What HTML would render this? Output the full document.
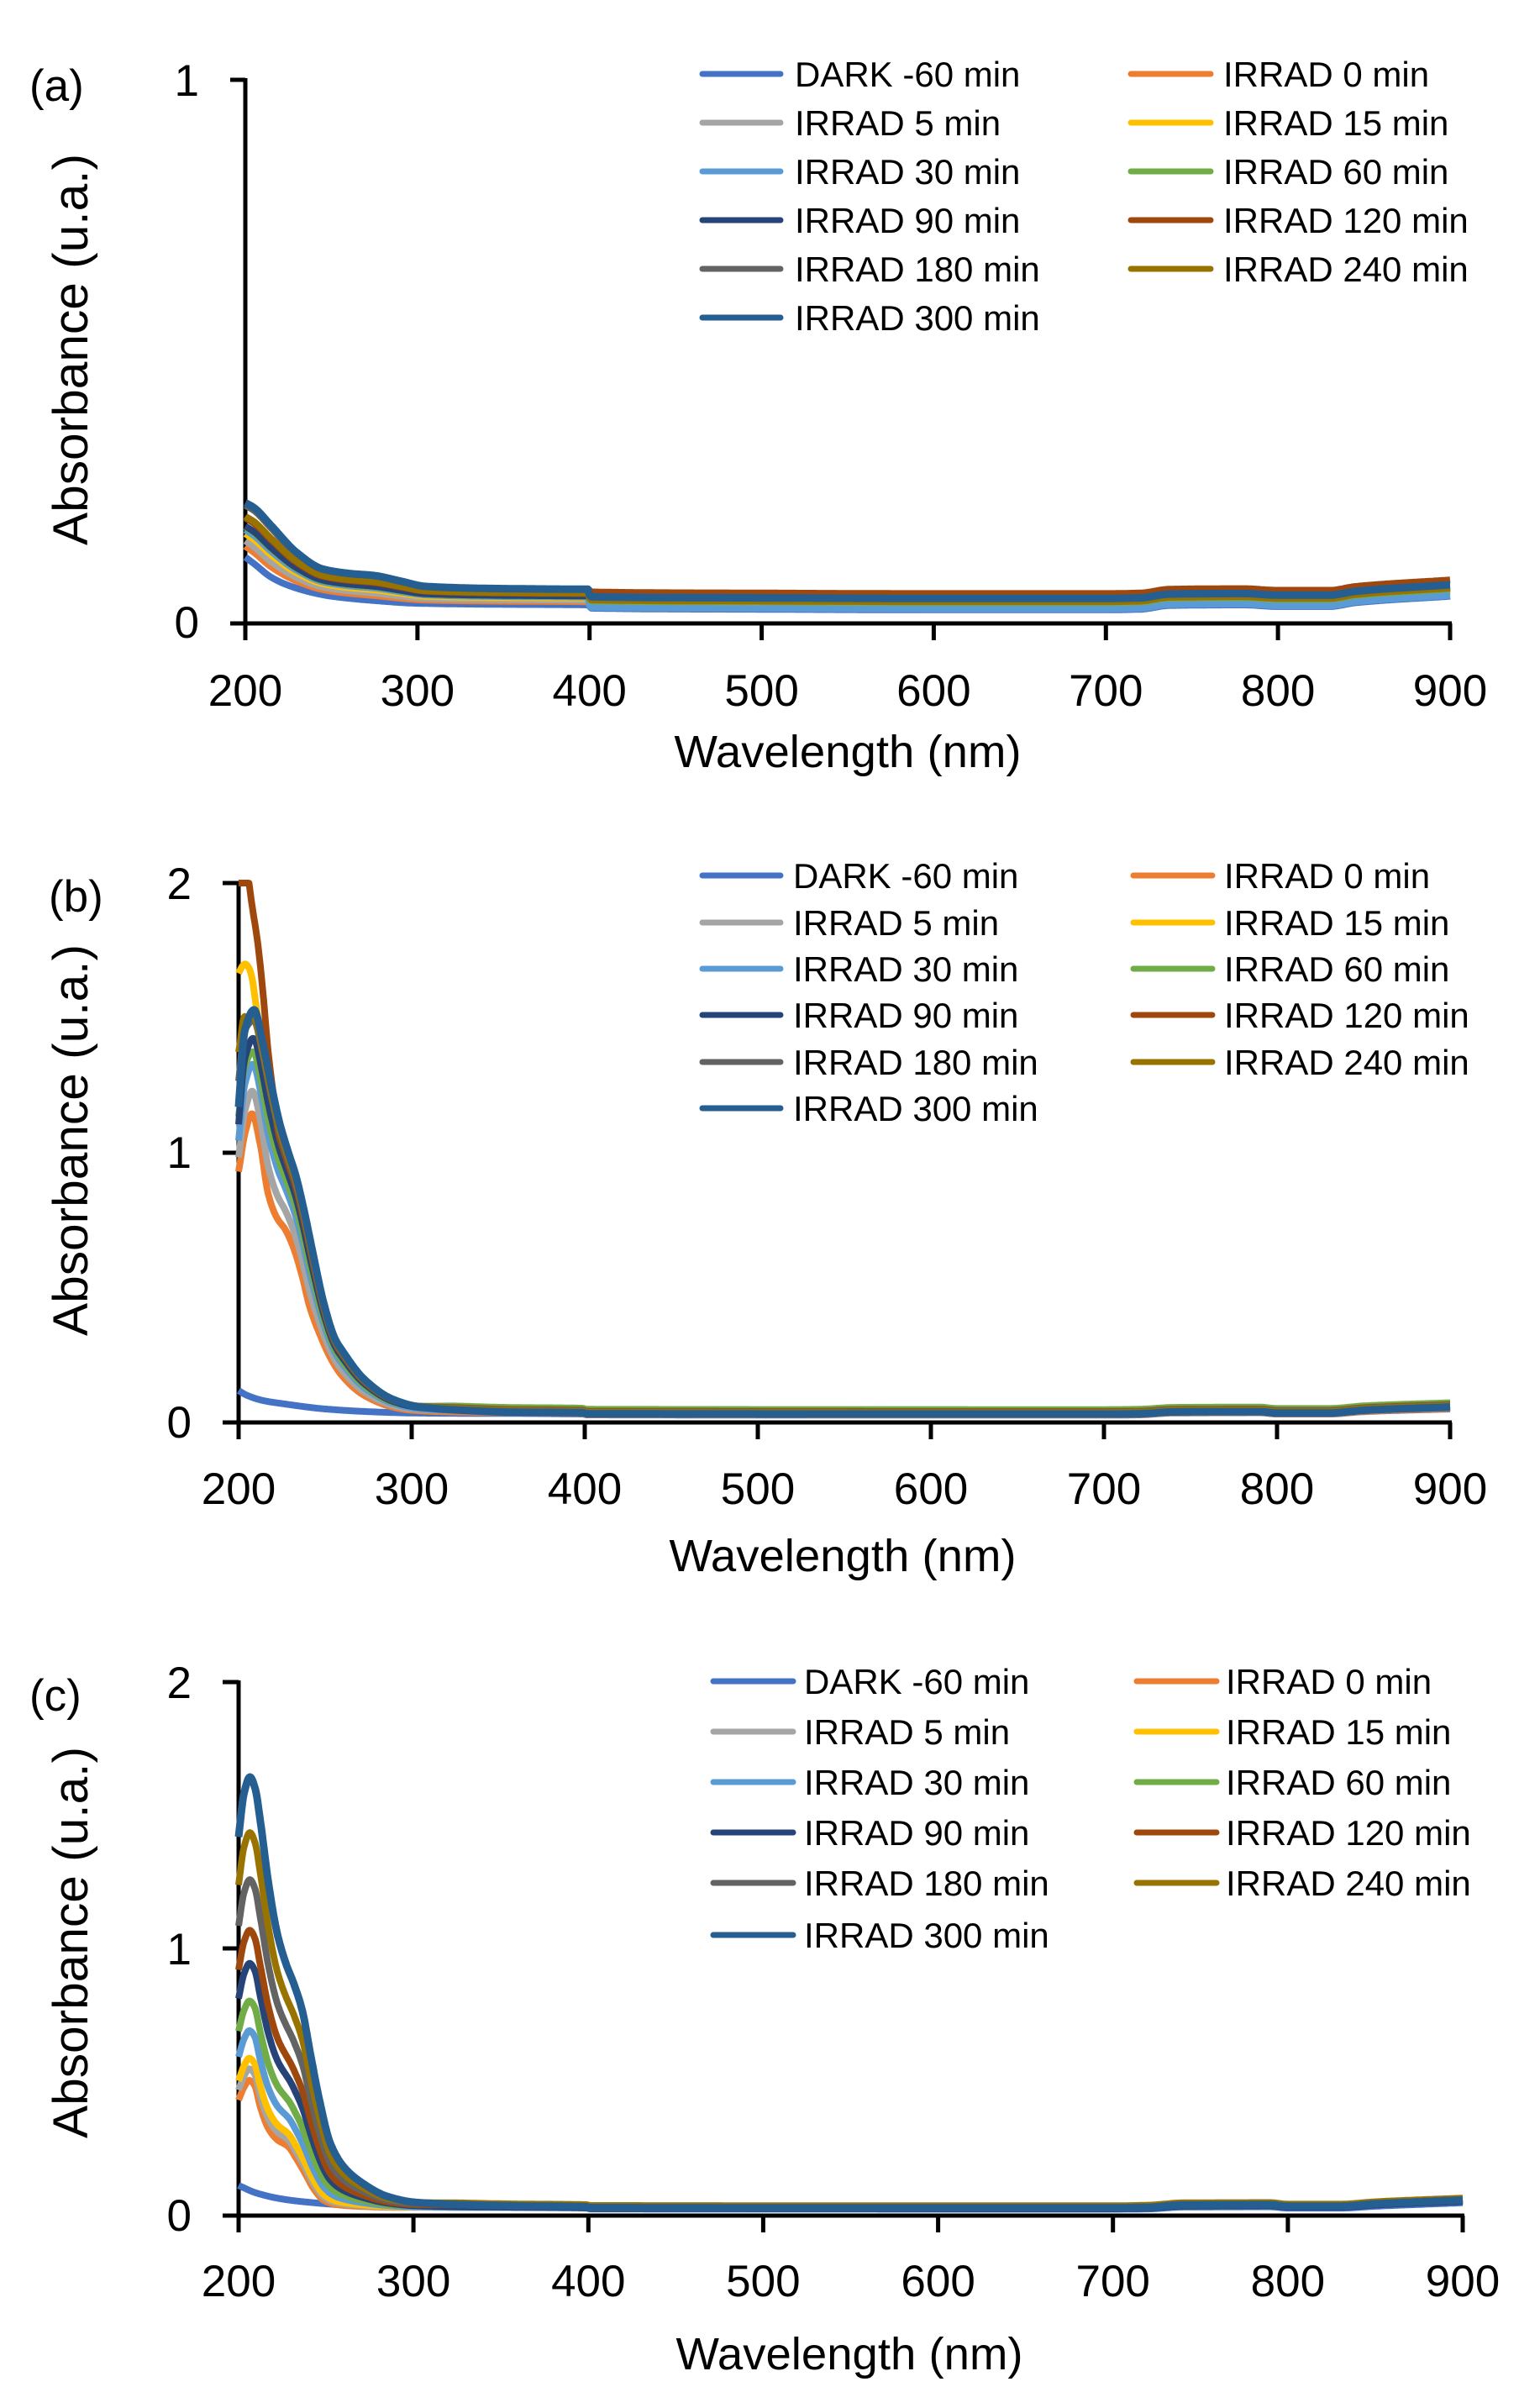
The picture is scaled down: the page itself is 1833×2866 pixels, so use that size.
<!DOCTYPE html>
<html>
<head>
<meta charset="utf-8">
<style>
  html,body{margin:0;padding:0;background:#fff;}
  svg{display:block;}
  text{font-family:"Liberation Sans", Arial, sans-serif; fill:#000;}
  .tk{font-size:53px;}
  .lg{font-size:42px;}
</style>
</head>
<body>
<svg id="fig" width="1833" height="2866" viewBox="0 0 1833 2866" xmlns="http://www.w3.org/2000/svg">
<rect x="0" y="0" width="1833" height="2866" fill="#fff"/>

<!-- ================= PANEL A ================= -->
<g stroke="#000" stroke-width="5" fill="none">
  <line x1="292" y1="93" x2="292" y2="744"/>
  <line x1="274" y1="95" x2="292" y2="95"/>
  <line x1="274" y1="742" x2="1728" y2="742"/>
  <line x1="292" y1="742" x2="292" y2="762"/>
  <line x1="496.9" y1="742" x2="496.9" y2="762"/>
  <line x1="701.7" y1="742" x2="701.7" y2="762"/>
  <line x1="906.6" y1="742" x2="906.6" y2="762"/>
  <line x1="1111.4" y1="742" x2="1111.4" y2="762"/>
  <line x1="1316.3" y1="742" x2="1316.3" y2="762"/>
  <line x1="1521.1" y1="742" x2="1521.1" y2="762"/>
  <line x1="1726" y1="742" x2="1726" y2="762"/>
</g>
<g id="curvesA"></g>
<text x="35" y="120" class="tk">(a)</text>
<text x="237" y="114" class="tk" text-anchor="end">1</text>
<text x="237" y="759" class="tk" text-anchor="end">0</text>
<g class="tk" text-anchor="middle">
  <text x="292" y="840">200</text>
  <text x="496.9" y="840">300</text>
  <text x="701.7" y="840">400</text>
  <text x="906.6" y="840">500</text>
  <text x="1111.4" y="840">600</text>
  <text x="1316.3" y="840">700</text>
  <text x="1521.1" y="840">800</text>
  <text x="1726" y="840">900</text>
</g>
<text x="1009" y="913" font-size="54" text-anchor="middle" textLength="413" lengthAdjust="spacingAndGlyphs">Wavelength (nm)</text>
<text transform="translate(104,416) rotate(-90)" font-size="58" text-anchor="middle" textLength="466" lengthAdjust="spacingAndGlyphs">Absorbance (u.a.)</text>

<g stroke-width="7" stroke-linecap="round">
  <line x1="836" y1="88" x2="929" y2="88" stroke="#4472C4"/>
  <line x1="1346" y1="88" x2="1441" y2="88" stroke="#ED7D31"/>
  <line x1="836" y1="146" x2="929" y2="146" stroke="#A5A5A5"/>
  <line x1="1346" y1="146" x2="1441" y2="146" stroke="#FFC000"/>
  <line x1="836" y1="204" x2="929" y2="204" stroke="#5B9BD5"/>
  <line x1="1346" y1="204" x2="1441" y2="204" stroke="#70AD47"/>
  <line x1="836" y1="262" x2="929" y2="262" stroke="#264478"/>
  <line x1="1346" y1="262" x2="1441" y2="262" stroke="#9E480E"/>
  <line x1="836" y1="320" x2="929" y2="320" stroke="#636363"/>
  <line x1="1346" y1="320" x2="1441" y2="320" stroke="#997300"/>
  <line x1="836" y1="378" x2="929" y2="378" stroke="#255E91"/>
</g>
<g class="lg">
  <text x="946" y="103">DARK -60 min</text>
  <text x="1456" y="103">IRRAD 0 min</text>
  <text x="946" y="161">IRRAD 5 min</text>
  <text x="1456" y="161">IRRAD 15 min</text>
  <text x="946" y="219">IRRAD 30 min</text>
  <text x="1456" y="219">IRRAD 60 min</text>
  <text x="946" y="277">IRRAD 90 min</text>
  <text x="1456" y="277">IRRAD 120 min</text>
  <text x="946" y="335">IRRAD 180 min</text>
  <text x="1456" y="335">IRRAD 240 min</text>
  <text x="946" y="393">IRRAD 300 min</text>
</g>

<!-- ================= PANEL B ================= -->
<g stroke="#000" stroke-width="5" fill="none">
  <line x1="284" y1="1049" x2="284" y2="1695"/>
  <line x1="265" y1="1051" x2="284" y2="1051"/>
  <line x1="265" y1="1372" x2="284" y2="1372"/>
  <line x1="265" y1="1693" x2="1728" y2="1693"/>
  <line x1="284" y1="1693" x2="284" y2="1713"/>
  <line x1="490" y1="1693" x2="490" y2="1713"/>
  <line x1="696" y1="1693" x2="696" y2="1713"/>
  <line x1="902" y1="1693" x2="902" y2="1713"/>
  <line x1="1108" y1="1693" x2="1108" y2="1713"/>
  <line x1="1314" y1="1693" x2="1314" y2="1713"/>
  <line x1="1520" y1="1693" x2="1520" y2="1713"/>
  <line x1="1726" y1="1693" x2="1726" y2="1713"/>
</g>
<g id="curvesB"></g>
<text x="58" y="1085" class="tk">(b)</text>
<text x="228" y="1070" class="tk" text-anchor="end">2</text>
<text x="228" y="1390" class="tk" text-anchor="end">1</text>
<text x="228" y="1711" class="tk" text-anchor="end">0</text>
<g class="tk" text-anchor="middle">
  <text x="284" y="1790">200</text>
  <text x="490" y="1790">300</text>
  <text x="696" y="1790">400</text>
  <text x="902" y="1790">500</text>
  <text x="1108" y="1790">600</text>
  <text x="1314" y="1790">700</text>
  <text x="1520" y="1790">800</text>
  <text x="1726" y="1790">900</text>
</g>
<text x="1003" y="1870" font-size="54" text-anchor="middle" textLength="413" lengthAdjust="spacingAndGlyphs">Wavelength (nm)</text>
<text transform="translate(104,1357) rotate(-90)" font-size="58" text-anchor="middle" textLength="466" lengthAdjust="spacingAndGlyphs">Absorbance (u.a.)</text>

<g stroke-width="7" stroke-linecap="round">
  <line x1="836" y1="1042" x2="929" y2="1042" stroke="#4472C4"/>
  <line x1="1349" y1="1042" x2="1443" y2="1042" stroke="#ED7D31"/>
  <line x1="836" y1="1098" x2="929" y2="1098" stroke="#A5A5A5"/>
  <line x1="1349" y1="1098" x2="1443" y2="1098" stroke="#FFC000"/>
  <line x1="836" y1="1153" x2="929" y2="1153" stroke="#5B9BD5"/>
  <line x1="1349" y1="1153" x2="1443" y2="1153" stroke="#70AD47"/>
  <line x1="836" y1="1208" x2="929" y2="1208" stroke="#264478"/>
  <line x1="1349" y1="1208" x2="1443" y2="1208" stroke="#9E480E"/>
  <line x1="836" y1="1264" x2="929" y2="1264" stroke="#636363"/>
  <line x1="1349" y1="1264" x2="1443" y2="1264" stroke="#997300"/>
  <line x1="836" y1="1319" x2="929" y2="1319" stroke="#255E91"/>
</g>
<g class="lg">
  <text x="944" y="1057">DARK -60 min</text>
  <text x="1457" y="1057">IRRAD 0 min</text>
  <text x="944" y="1113">IRRAD 5 min</text>
  <text x="1457" y="1113">IRRAD 15 min</text>
  <text x="944" y="1168">IRRAD 30 min</text>
  <text x="1457" y="1168">IRRAD 60 min</text>
  <text x="944" y="1223">IRRAD 90 min</text>
  <text x="1457" y="1223">IRRAD 120 min</text>
  <text x="944" y="1279">IRRAD 180 min</text>
  <text x="1457" y="1279">IRRAD 240 min</text>
  <text x="944" y="1334">IRRAD 300 min</text>
</g>

<!-- ================= PANEL C ================= -->
<g stroke="#000" stroke-width="5" fill="none">
  <line x1="284" y1="2000" x2="284" y2="2639"/>
  <line x1="265" y1="2002" x2="284" y2="2002"/>
  <line x1="265" y1="2319" x2="284" y2="2319"/>
  <line x1="265" y1="2637" x2="1743" y2="2637"/>
  <line x1="284" y1="2637" x2="284" y2="2657"/>
  <line x1="492.1" y1="2637" x2="492.1" y2="2657"/>
  <line x1="700.3" y1="2637" x2="700.3" y2="2657"/>
  <line x1="908.4" y1="2637" x2="908.4" y2="2657"/>
  <line x1="1116.6" y1="2637" x2="1116.6" y2="2657"/>
  <line x1="1324.7" y1="2637" x2="1324.7" y2="2657"/>
  <line x1="1532.9" y1="2637" x2="1532.9" y2="2657"/>
  <line x1="1741" y1="2637" x2="1741" y2="2657"/>
</g>
<g id="curvesC"></g>
<text x="35" y="2036" class="tk">(c)</text>
<text x="228" y="2021" class="tk" text-anchor="end">2</text>
<text x="228" y="2338" class="tk" text-anchor="end">1</text>
<text x="228" y="2655" class="tk" text-anchor="end">0</text>
<g class="tk" text-anchor="middle">
  <text x="284" y="2733">200</text>
  <text x="492.1" y="2733">300</text>
  <text x="700.3" y="2733">400</text>
  <text x="908.4" y="2733">500</text>
  <text x="1116.6" y="2733">600</text>
  <text x="1324.7" y="2733">700</text>
  <text x="1532.9" y="2733">800</text>
  <text x="1741" y="2733">900</text>
</g>
<text x="1011" y="2820" font-size="54" text-anchor="middle" textLength="413" lengthAdjust="spacingAndGlyphs">Wavelength (nm)</text>
<text transform="translate(104,2312) rotate(-90)" font-size="58" text-anchor="middle" textLength="466" lengthAdjust="spacingAndGlyphs">Absorbance (u.a.)</text>

<g stroke-width="7" stroke-linecap="round">
  <line x1="849" y1="2001" x2="944" y2="2001" stroke="#4472C4"/>
  <line x1="1353" y1="2001" x2="1448" y2="2001" stroke="#ED7D31"/>
  <line x1="849" y1="2061" x2="944" y2="2061" stroke="#A5A5A5"/>
  <line x1="1353" y1="2061" x2="1448" y2="2061" stroke="#FFC000"/>
  <line x1="849" y1="2121" x2="944" y2="2121" stroke="#5B9BD5"/>
  <line x1="1353" y1="2121" x2="1448" y2="2121" stroke="#70AD47"/>
  <line x1="849" y1="2181" x2="944" y2="2181" stroke="#264478"/>
  <line x1="1353" y1="2181" x2="1448" y2="2181" stroke="#9E480E"/>
  <line x1="849" y1="2241" x2="944" y2="2241" stroke="#636363"/>
  <line x1="1353" y1="2241" x2="1448" y2="2241" stroke="#997300"/>
  <line x1="849" y1="2303" x2="944" y2="2303" stroke="#255E91"/>
</g>
<g class="lg">
  <text x="957" y="2016">DARK -60 min</text>
  <text x="1459" y="2016">IRRAD 0 min</text>
  <text x="957" y="2076">IRRAD 5 min</text>
  <text x="1459" y="2076">IRRAD 15 min</text>
  <text x="957" y="2136">IRRAD 30 min</text>
  <text x="1459" y="2136">IRRAD 60 min</text>
  <text x="957" y="2196">IRRAD 90 min</text>
  <text x="1459" y="2196">IRRAD 120 min</text>
  <text x="957" y="2256">IRRAD 180 min</text>
  <text x="1459" y="2256">IRRAD 240 min</text>
  <text x="957" y="2318">IRRAD 300 min</text>
</g>
</svg>

<script>
(function(){
  var NS="http://www.w3.org/2000/svg";
  var COL={d:'#4472C4',s0:'#ED7D31',s5:'#A5A5A5',s15:'#FFC000',s30:'#5B9BD5',s60:'#70AD47',s90:'#264478',s120:'#9E480E',s180:'#636363',s240:'#997300',s300:'#255E91'};
  function mono(pts){
    var n=pts.length,x=[],y=[],d=[],m=[],i;
    for(i=0;i<n;i++){x.push(pts[i][0]);y.push(pts[i][1]);}
    for(i=0;i<n-1;i++)d.push((y[i+1]-y[i])/(x[i+1]-x[i]));
    m[0]=d[0];m[n-1]=d[n-2];
    for(i=1;i<n-1;i++){
      if(d[i-1]*d[i]<=0)m[i]=0;
      else{var w1=2*(x[i+1]-x[i])+(x[i]-x[i-1]),w2=(x[i+1]-x[i])+2*(x[i]-x[i-1]);m[i]=(w1+w2)/(w1/d[i-1]+w2/d[i]);}
    }
    return function(t){
      if(t<=x[0])return y[0];if(t>=x[n-1])return y[n-1];
      var k=0;while(t>x[k+1])k++;
      var h=x[k+1]-x[k],s=(t-x[k])/h,s2=s*s,s3=s2*s;
      return (2*s3-3*s2+1)*y[k]+(s3-2*s2+s)*h*m[k]+(-2*s3+3*s2)*y[k+1]+(s3-s2)*h*m[k+1];
    };
  }
  function sm(w,a,b){var t=(w-a)/(b-a);if(t<0)t=0;if(t>1)t=1;return t*t*(3-2*t);}
  function draw(gid,P,key,fn,sw){
    var g=document.getElementById(gid),d="",w,first=true;
    for(w=200;w<=900.001;w+=(w<340?0.5:1)){
      var A=fn(w);
      var X=P.x0+(w-200)*P.sx,Y=P.y0-A*P.sy;
      d+=(first?"M":"L")+X.toFixed(1)+" "+Y.toFixed(1);first=false;
    }
    var p=document.createElementNS(NS,"path");
    p.setAttribute("d",d);p.setAttribute("fill","none");p.setAttribute("stroke",COL[key]);
    p.setAttribute("stroke-width",sw||8);p.setAttribute("stroke-linejoin","round");
    g.appendChild(p);
  }
  var order=['d','s0','s5','s15','s30','s60','s90','s120','s180','s240','s300'];

  /* ---------- Panel A ---------- */
  var PA={x0:292,sx:1434/700,y0:742,sy:647};
  var aD=mono([[200,0.122],[205,0.11],[215,0.085],[225,0.07],[240,0.056],[250,0.05],[275,0.042],[300,0.037],[350,0.035],[399,0.034],[401,0.028],[500,0.026],[600,0.025],[700,0.025],[720,0.026],[737,0.033],[780,0.034],[800,0.031],[830,0.031],[845,0.038],[900,0.05]]);
  var aT=mono([[200,0.222],[205,0.213],[215,0.18],[230,0.13],[245,0.1],[260,0.092],[275,0.088],[290,0.078],[305,0.068],[350,0.064],[399,0.063],[402,0.063]]);
  var pa={d:[0,0],s0:[.2,.25],s5:[.3,.4],s15:[.43,.3],s30:[.5,.05],s60:[.55,.45],s90:[.57,.55],s120:[.72,1],s180:[.95,.6],s240:[.75,.5],s300:[1,.7]};
  order.forEach(function(k){
    var h=pa[k][0],gg=pa[k][1];
    draw("curvesA",PA,k,function(w){
      if(w<400)return aD(w)+h*(aT(w)-aD(w));
      return aD(w)+gg*0.03;
    },k==='s300'?9:8);
  });

  /* ---------- Panel B ---------- */
  var PB={x0:284,sx:1442/700,y0:1693,sy:321};
  var bD=mono([[200,0.118],[205,0.1],[215,0.08],[225,0.07],[250,0.05],[275,0.04],[300,0.035],[399,0.031],[401,0.028],[700,0.027],[720,0.028],[740,0.035],[790,0.036],[800,0.031],[830,0.031],[850,0.04],[900,0.05]]);
  var bHi=mono([[200,1.17],[203.5,1.45],[209,1.53],[213.5,1.42],[218.9,1.25],[223.7,1.11],[228.5,1.006],[233,0.916],[238,0.78],[243,0.625],[249,0.447],[255.7,0.31],[260,0.265],[272.6,0.16],[289,0.086],[305,0.057],[330,0.045],[360,0.038],[399,0.036],[401,0.032],[700,0.031],[720,0.032],[740,0.039],[790,0.04],[800,0.035],[830,0.035],[850,0.045],[900,0.057]]);
  var bLo=mono([[200,0.93],[204,1.08],[207.7,1.145],[212.5,1.03],[217,0.85],[222,0.76],[227,0.715],[231.7,0.648],[236.5,0.547],[241,0.43],[248,0.31],[253,0.24],[259.5,0.175],[272.6,0.10],[289,0.057],[300,0.045],[330,0.038],[360,0.036],[399,0.033],[401,0.029],[700,0.028],[720,0.029],[740,0.036],[790,0.037],[800,0.032],[830,0.032],[850,0.041],[900,0.052]]);
  function bBase(t,off,extra){return function(w){
    var v=bLo(w)+t*(bHi(w)-bLo(w))+off*sm(w,280,330);
    if(extra){var q=1-(w-200)/9;if(q>0)v+=extra*q*q;}
    return v;};}
  function withHead(head,start,base){
    var pts=head.slice();for(var w=start;w<=900;w+=2)pts.push([w,base(w)]);return mono(pts);}
  var pb={
    s0:bBase(0,0),s5:bBase(.22,.004),s30:bBase(.48,.002),s60:bBase(.6,.018,.06),
    s90:bBase(.73,.004),s180:bBase(.9,.008,.12),s240:bBase(.93,.006,.22),s300:bBase(1,0)
  };
  pb.s15=withHead([[200,1.665],[202,1.69],[203.7,1.70],[206,1.685],[207.7,1.65],[210,1.55],[213,1.42],[216,1.3]],219,bBase(.8,.003));
  var br=withHead([[200,2.15],[203,2.1],[205.5,2.02],[207.7,1.92],[211,1.78],[214,1.6],[217,1.38],[220,1.22]],223,bBase(.85,.01));
  pb.s120=function(w){return Math.min(br(w),2);};
  pb.d=bD;
  order.forEach(function(k){draw("curvesB",PB,k,pb[k],k==='s300'?9:8);});

  /* ---------- Panel C ---------- */
  var PC={x0:284,sx:1457/700,y0:2637,sy:317.5};
  var cD=mono([[200,0.113],[210,0.085],[225,0.062],[240,0.05],[260,0.04],[300,0.032],[399,0.028],[401,0.025],[700,0.024],[720,0.025],[740,0.032],[790,0.033],[800,0.028],[830,0.028],[850,0.035],[900,0.048]]);
  var cHi=mono([[200,1.42],[203,1.58],[206.5,1.644],[209.5,1.60],[212.5,1.475],[217,1.25],[222,1.06],[227,0.946],[231.7,0.867],[236.5,0.766],[241,0.608],[246,0.44],[252.5,0.27],[260.5,0.18],[271.7,0.118],[284.5,0.073],[300.5,0.05],[332,0.04],[360,0.036],[399,0.033],[401,0.03],[700,0.029],[720,0.031],[740,0.04],[790,0.041],[800,0.035],[830,0.035],[850,0.044],[900,0.058]]);
  var cLo=mono([[200,0.433],[203,0.48],[206,0.507],[209,0.49],[212.5,0.405],[217,0.327],[222,0.285],[228.5,0.258],[233,0.214],[238,0.158],[243,0.10],[249,0.056],[257,0.04],[280,0.032],[300,0.029],[399,0.027],[401,0.024],[700,0.023],[720,0.025],[740,0.033],[790,0.034],[800,0.029],[830,0.029],[850,0.037],[900,0.05]]);
  function cBase(t,off){return function(w){return cLo(w)+t*(cHi(w)-cLo(w))+off*sm(w,280,330);};}
  var pc={d:cD,s0:cBase(0,.008),s5:cBase(.038,.004),s15:cBase(.073,.006),s30:cBase(.164,.002),s60:cBase(.262,.01),
    s90:cBase(.386,0),s120:cBase(.495,.005),s180:cBase(.662,.007),s240:cBase(.817,.009),s300:cBase(1,0)};
  order.forEach(function(k){draw("curvesC",PC,k,pc[k],k==='s300'?9:8);});
})();
</script>
</body>
</html>
